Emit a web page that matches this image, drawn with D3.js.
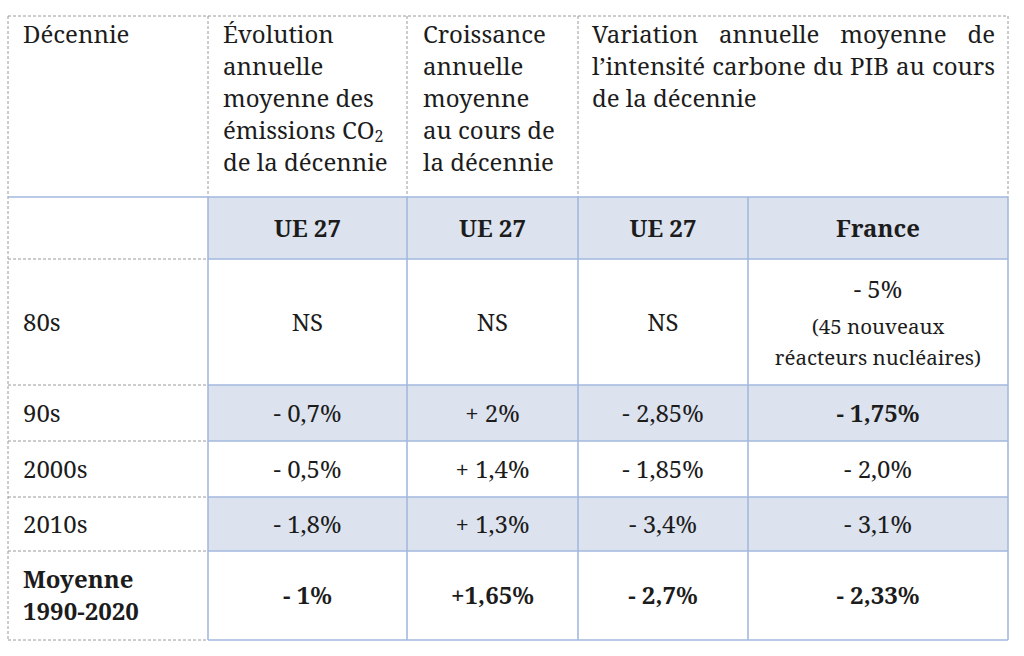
<!DOCTYPE html>
<html><head><meta charset="utf-8">
<script src="https://cdn.jsdelivr.net/npm/d3@7"></script>
<style>
html,body{margin:0;padding:0;background:#fff;}
svg text{font-family:"Noto Serif","DejaVu Serif",serif;fill:#1c1c1c;}
</style></head>
<body><svg id="c" width="1024" height="656"></svg>
<script>
// ---- data ----
const headerTitles = [
  ["Décennie"],
  ["Évolution","annuelle","moyenne des","émissions CO|2","de la décennie"],
  ["Croissance","annuelle","moyenne","au cours de","la décennie"],
  ["Variation annuelle moyenne de","l’intensité carbone du PIB au cours","de la décennie"]
];
const zoneLabels = ["UE 27","UE 27","UE 27","France"];
const decades = ["80s","90s","2000s","2010s","Moyenne|1990-2020"];
const emissionsUE27 = ["NS","- 0,7%","- 0,5%","- 1,8%","- 1%"];
const croissanceUE27 = ["NS","+ 2%","+ 1,4%","+ 1,3%","+1,65%"];
const intensiteUE27 = ["NS","- 2,85%","- 1,85%","- 3,4%","- 2,7%"];
const intensiteFrance = ["- 5%","- 1,75%","- 2,0%","- 3,1%","- 2,33%"];
const franceNote80s = ["(45 nouveaux","réacteurs nucléaires)"];
const boldRows = [false,false,false,false,true];
const shadedRows = [false,true,false,true,false];

// ---- layout ----
const svg = d3.select("#c");
const colEdges = [8,208,407,578,748,1008];
const rowKeys = ["head","zone"].concat(decades);
const rowEdges = [16,197,259,385,441,497,551,640];
const rowTop = d3.scaleOrdinal().domain(rowKeys).range(rowEdges.slice(0,-1));
const rowBot = d3.scaleOrdinal().domain(rowKeys).range(rowEdges.slice(1));
const colLeft = d3.scaleOrdinal().domain([0,1,2,3,4]).range(colEdges.slice(0,-1));
const colRight = d3.scaleOrdinal().domain([0,1,2,3,4]).range(colEdges.slice(1));
const colMid = c => (colLeft(c)+colRight(c))/2;
const rowMid = r => (rowTop(r)+rowBot(r))/2;

const blue = "#a3b9de", fill = "#dce3ef", grey = "#9a9a9a";
const FS = 24;
const BL = 8.5; // baseline offset from centre

// shading
const shaded = ["zone"].concat(decades.filter((d,i)=>shadedRows[i]));
svg.selectAll("rect.sh").data(shaded).join("rect")
  .attr("x", colLeft(1)).attr("y", d=>rowTop(d))
  .attr("width", colRight(4)-colLeft(1)).attr("height", d=>rowBot(d)-rowTop(d))
  .attr("fill", fill);

// grid lines
const lines = [];
lines.push({x1:colLeft(0),x2:colRight(4),y1:rowTop("head"),y2:rowTop("head"),t:"d"});
lines.push({x1:colLeft(0),x2:colLeft(0),y1:rowTop("head"),y2:rowBot(decades[4]),t:"d"});
[1,2,3].forEach(c=>lines.push({x1:colLeft(c),x2:colLeft(c),y1:rowTop("head"),y2:rowBot("head"),t:"d"}));
lines.push({x1:colRight(4),x2:colRight(4),y1:rowTop("head"),y2:rowBot("head"),t:"d"});
["zone"].concat(decades).forEach(r=>lines.push({x1:colLeft(0),x2:colRight(0),y1:rowBot(r),y2:rowBot(r),t:"d"}));
lines.push({x1:colLeft(0),x2:colRight(4),y1:rowBot("head"),y2:rowBot("head"),t:"b"});
["zone"].concat(decades).forEach(r=>lines.push({x1:colLeft(1),x2:colRight(4),y1:rowBot(r),y2:rowBot(r),t:"b"}));
[1,2,3,4].forEach(c=>lines.push({x1:colLeft(c),x2:colLeft(c),y1:rowBot("head"),y2:rowBot(decades[4]),t:"b"}));
lines.push({x1:colRight(4),x2:colRight(4),y1:rowBot("head"),y2:rowBot(decades[4]),t:"b"});

svg.selectAll("line.g").data(lines).join("line")
  .attr("x1",d=>d.x1).attr("x2",d=>d.x2).attr("y1",d=>d.y1).attr("y2",d=>d.y2)
  .attr("stroke",d=>d.t==="d"?grey:blue)
  .attr("stroke-width",d=>d.t==="d"?1:1.6)
  .attr("stroke-dasharray",d=>d.t==="d"?"3,2":null);

// header titles
const headX = [23,223,423,592];
const headRight = [null,null,null,995];
headerTitles.forEach((lns,ci)=>{
  lns.forEach((ln,li)=>{
    const y = 43 + li*32;
    if(ci===3 && li<lns.length-1){
      const words = ln.split(" ");
      const g = svg.append("g");
      const ts = words.map(w=>g.append("text").attr("y",y).attr("font-size",FS).text(w));
      const widths = ts.map(t=>t.node().getComputedTextLength());
      const total = d3.sum(widths);
      const gap = (headRight[ci]-headX[ci]-total)/(words.length-1);
      let x = headX[ci];
      ts.forEach((t,i)=>{t.attr("x",x); x += widths[i]+gap;});
    } else {
      const t = svg.append("text").attr("x",headX[ci]).attr("y",y).attr("font-size",FS);
      const parts = ln.split("|");
      t.append("tspan").text(parts[0]);
      if(parts[1]) t.append("tspan").attr("font-size",16).attr("dy",3).text(parts[1]);
    }
  });
});

// zone labels
svg.selectAll("text.zone").data(zoneLabels).join("text")
  .attr("x",(d,i)=>colMid(i+1)).attr("y",rowMid("zone")+BL)
  .attr("text-anchor","middle").attr("font-size",FS).attr("font-weight","bold").text(d=>d);

// decade labels
decades.forEach((d,i)=>{
  const parts = d.split("|");
  const t = svg.append("text").attr("x",23).attr("font-size",FS)
    .attr("font-weight",boldRows[i]?"bold":null);
  if(parts.length===1){ t.attr("y",rowMid(d)+BL).text(d); }
  else {
    t.attr("y",rowMid(d)-7.5).text(parts[0]);
    svg.append("text").attr("x",23).attr("y",rowMid(d)+24.5).attr("font-size",FS)
      .attr("font-weight","bold").text(parts[1]);
  }
});

// values
const cols = [emissionsUE27,croissanceUE27,intensiteUE27,intensiteFrance];
cols.forEach((vals,ci)=>{
  vals.forEach((v,ri)=>{
    const r = decades[ri];
    const bold = boldRows[ri] || (ci===3 && ri===1);
    let y = rowMid(r)+BL;
    if(ci===3 && ri===0) y = rowTop(r)+39;
    svg.append("text").attr("x",colMid(ci+1)).attr("y",y)
      .attr("text-anchor","middle").attr("font-size",FS)
      .attr("font-weight",bold?"bold":null).text(v);
  });
});
franceNote80s.forEach((n,i)=>{
  svg.append("text").attr("x",colMid(4)).attr("y",rowTop(decades[0])+75+i*31)
    .attr("text-anchor","middle").attr("font-size",20.5).text(n);
});
</script></body></html>
